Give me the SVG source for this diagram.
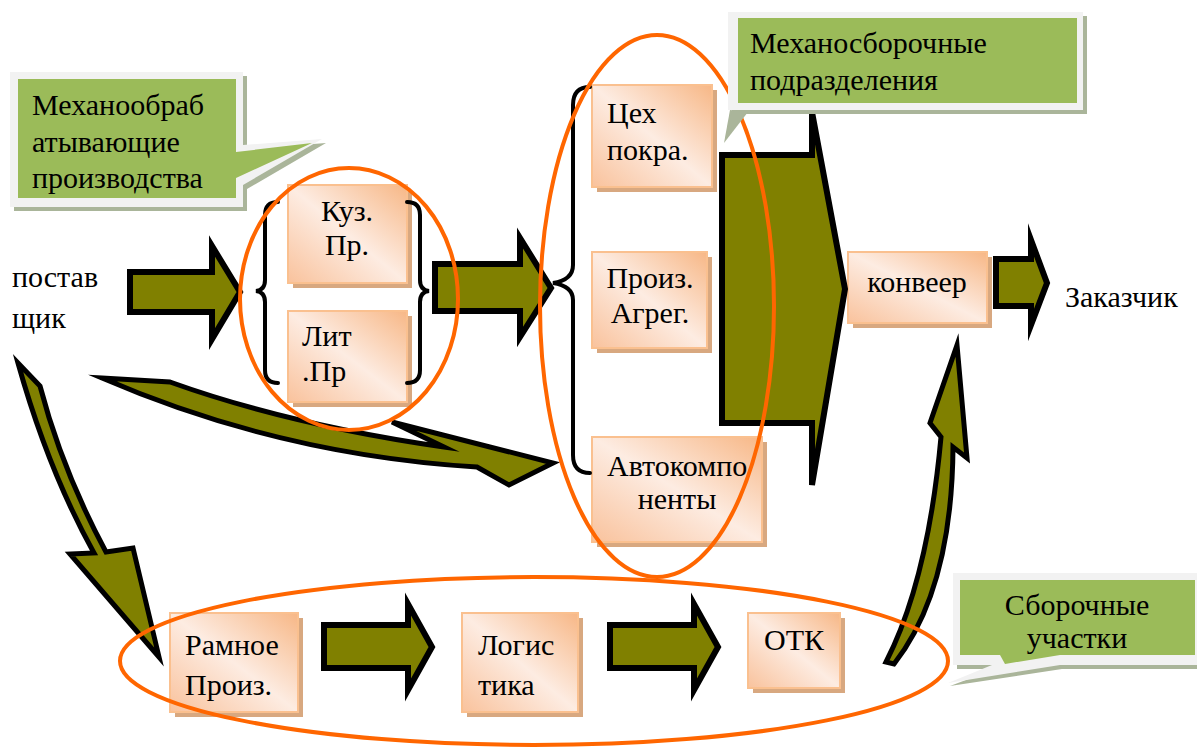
<svg xmlns="http://www.w3.org/2000/svg" width="1197" height="749" viewBox="0 0 1197 749" font-family="Liberation Serif, DejaVu Serif, Times New Roman, serif">
<style>
text{font-family:'Liberation Serif','DejaVu Serif','Times New Roman',Times,serif}
.t{font-size:30px;fill:#000}
.m{text-anchor:middle}
.box{fill:url(#peach);stroke:#fac08f;stroke-width:2}
.sh{fill:#d8a880}
.arr{fill:#808000;stroke:#000;stroke-width:6;stroke-linejoin:miter;stroke-miterlimit:10}
.carr{fill:#808000;stroke:#000;stroke-width:5;stroke-linejoin:miter;stroke-miterlimit:10}
.br{fill:none;stroke:#000;stroke-width:4;stroke-linecap:round}
.ell{fill:none;stroke:#ff6600;stroke-width:4}
.cs{fill:#aab59a}
.co{fill:#f2f2f2}
.cg{fill:#9bbb59}
</style>
<defs>
<linearGradient id="peach" x1="0" y1="1" x2="1" y2="0">
<stop offset="0" stop-color="#f9c29c"/>
<stop offset="0.5" stop-color="#fdece2"/>
<stop offset="1" stop-color="#f7b786"/>
</linearGradient>
<clipPath id="clipSb"><rect x="960" y="580" width="235" height="75"/></clipPath>
</defs>
<rect width="1197" height="749" fill="#fff"/>

<g id="supplier"><text class="t" x="12" y="287">постав</text><text class="t" x="12" y="328">щик</text></g>

<g id="kuz"><rect class="sh" x="293" y="190" width="119" height="98"/><rect class="box" x="288" y="185" width="119" height="98"/><text class="t m" x="347" y="221">Куз.</text><text class="t m" x="347" y="255">Пр.</text></g>
<g id="lit"><rect class="sh" x="293" y="316" width="119" height="91"/><rect class="box" x="288" y="311" width="119" height="91"/><text class="t" x="302" y="346">Лит</text><text class="t" x="302" y="381">.Пр</text></g>
<g id="ceh"><rect class="sh" x="597" y="90" width="120" height="102"/><rect class="box" x="592" y="85" width="120" height="102"/><text class="t" x="607" y="123">Цех</text><text class="t" x="607" y="160">покра.</text></g>
<g id="proiz"><rect class="sh" x="597" y="257" width="115" height="96"/><rect class="box" x="592" y="252" width="115" height="96"/><text class="t m" x="650" y="288">Произ.</text><text class="t m" x="650" y="323">Агрег.</text></g>
<g id="avto"><rect class="sh" x="597" y="442" width="170" height="105"/><rect class="box" x="592" y="437" width="170" height="105"/><text class="t" x="607" y="476">Автокомпо</text><text class="t m" x="677" y="509">ненты</text></g>
<g id="konveer"><rect class="sh" x="853" y="257" width="139" height="71"/><rect class="box" x="848" y="252" width="139" height="71"/><text class="t m" x="917" y="292">конвеер</text></g>
<g id="customer"><text class="t" x="1065" y="307">Заказчик</text></g>
<g id="ramnoe"><rect class="sh" x="175" y="618" width="128" height="99"/><rect class="box" x="170" y="613" width="128" height="99"/><text class="t" x="185" y="655">Рамное</text><text class="t" x="185" y="695">Произ.</text></g>
<g id="logistika"><rect class="sh" x="467" y="618" width="116" height="99"/><rect class="box" x="462" y="613" width="116" height="99"/><text class="t" x="478" y="655">Логис</text><text class="t" x="478" y="695">тика</text></g>
<g id="otk"><rect class="sh" x="753" y="618" width="92" height="75"/><rect class="box" x="748" y="613" width="92" height="75"/><text class="t m" x="794" y="650">ОТК</text></g>

<g id="connectors">
<path class="arr" d="M130,272 L212,272 L212,246 L240,292 L212,339 L212,312 L130,312 Z"/>
<path class="arr" d="M435,264 L520,264 L520,238 L551,288 L520,337 L520,311 L435,311 Z"/>
<path class="arr" d="M722,155 L812,155 L812,112 L845,289 L812,485 L812,423 L722,423 Z"/>
<path class="arr" d="M996,259 L1031,259 L1031,240 L1047,283 L1031,325 L1031,306 L996,306 Z"/>
<path class="arr" d="M324,625 L408,625 L408,604 L432,647 L408,690 L408,668 L324,668 Z"/>
<path class="arr" d="M610,625 L694,625 L694,604 L718,647 L694,690 L694,668 L610,668 Z"/>
<path class="carr" d="M102,378 L170,382 Q290,425 444,447 L392,422 L553,463 L509,485 L477,467 Q280,455 102,378 Z"/>
<path class="carr" d="M18,363 L40,386 Q62,470 106,552 L133,548 L159,657 L70,554 L94,553 Q48,470 18,363 Z"/>
<path class="carr" d="M886,662 Q928,580 941,437 L930,423 L957,345 L967,458 L953,447 Q952,590 894,664 Z"/>
<path class="br" d="M278,202 Q265,202 265,215 L265,280 Q265,290 256,291 Q265,292 265,302 L265,370 Q265,383 278,383"/>
<path class="br" d="M407,202 Q420,202 420,215 L420,280 Q420,290 429,291 Q420,292 420,302 L420,370 Q420,383 407,383"/>
<path class="br" d="M590,87 Q573,87 573,105 L573,265 Q573,280 553,283 Q573,286 573,300 L573,455 Q573,473 590,473"/>
</g>

<g id="groups">
<ellipse class="ell" cx="349" cy="299" rx="109" ry="131"/>
<ellipse class="ell" cx="657" cy="306" rx="117" ry="271"/>
<ellipse class="ell" cx="534" cy="661" rx="414" ry="84"/>
</g>

<g id="callout-mechobr">
<path class="cs" d="M14,76 H247 V149 L326,143 L247,189 V211 H14 Z"/>
<path class="co" d="M10,72 H243 V145 L322,139 L243,185 V207 H10 Z"/>
<path class="cg" d="M18,79 H236 V152 L312,143 L236,178 V198 H18 Z"/>
<text class="t" x="32" y="115">Механообраб</text>
<text class="t" x="32" y="152">атывающие</text>
<text class="t" x="32" y="188">производства</text>
</g>

<g id="callout-mechsb">
<path class="cs" d="M732,16 H1087 V114 H732 Z"/>
<path class="cs" d="M730,110 L748,112 L724,143 Z"/>
<rect class="co" x="728" y="12" width="355" height="98"/>
<rect class="cg" x="738" y="18" width="339" height="85"/>
<text class="t" x="750" y="53">Механосборочные</text>
<text class="t" x="750" y="90">подразделения</text>
</g>

<g id="callout-sborka">
<path class="cs" d="M957,577 H1197 V669 H1062 L950,686 L995,669 H957 Z"/>
<path class="co" d="M953,573 H1197 V665 H1060 L948,683 L992,665 H953 Z"/>
<rect class="cg" x="960" y="580" width="235" height="75"/>
<path class="cg" d="M1000,655 H1060 L1005,664 Z"/>
<g clip-path="url(#clipSb)">
<text class="t m" x="1077" y="615">Сборочные</text>
<text class="t m" x="1077" y="648">участки</text>
</g>
</g>
</svg>
